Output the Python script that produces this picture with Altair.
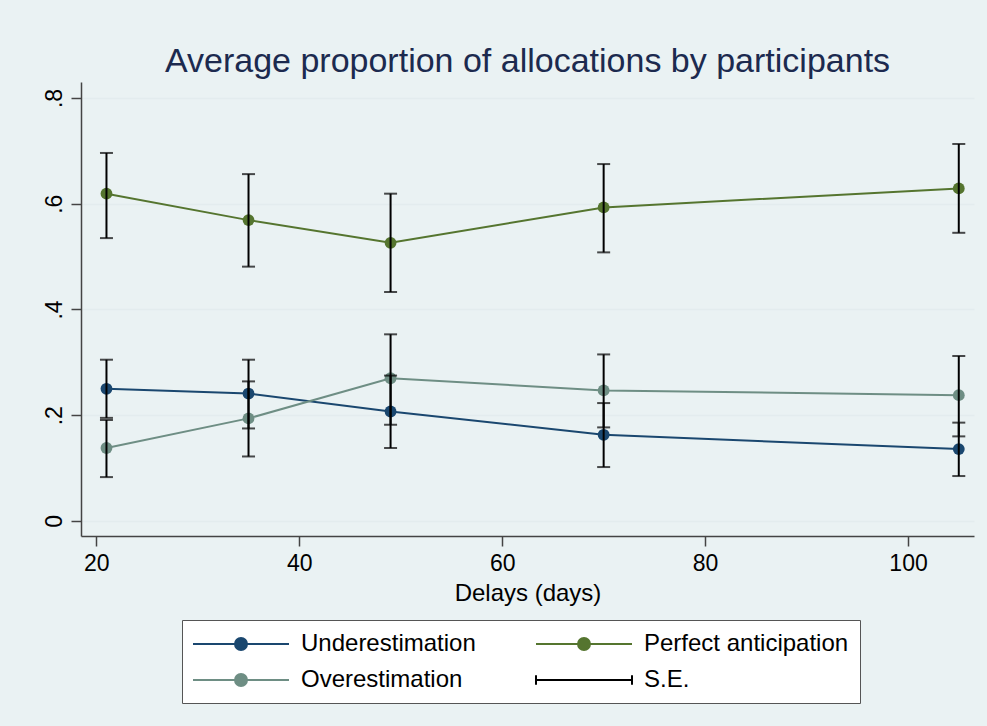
import altair as alt
import pandas as pd

# ---- data ----
delays = [21, 35, 49, 70, 105]
series_names = ["Underestimation", "Perfect anticipation", "Overestimation"]
series_colors = ["#1a476f", "#55752f", "#6e8e84"]

under_mean = [0.250, 0.241, 0.207, 0.163, 0.136]
under_lo = [0.195, 0.175, 0.138, 0.102, 0.085]
under_hi = [0.305, 0.305, 0.275, 0.223, 0.186]

perfect_mean = [0.619, 0.569, 0.526, 0.593, 0.629]
perfect_lo = [0.535, 0.481, 0.433, 0.508, 0.545]
perfect_hi = [0.696, 0.656, 0.619, 0.675, 0.713]

over_mean = [0.138, 0.194, 0.270, 0.247, 0.238]
over_lo = [0.083, 0.122, 0.182, 0.177, 0.160]
over_hi = [0.191, 0.264, 0.353, 0.315, 0.312]

x_ticks = [20, 40, 60, 80, 100]
y_ticks = [0, 0.2, 0.4, 0.6, 0.8]

# legend entries (column-major order: column 1 then column 2)
legend_names = ["Underestimation", "Overestimation", "Perfect anticipation", "S.E."]
legend_colors = ["#1a476f", "#6e8e84", "#55752f", "#000000"]

FONT = "Liberation Sans"

rows = []
for name, m, lo, hi in [
    ("Underestimation", under_mean, under_lo, under_hi),
    ("Perfect anticipation", perfect_mean, perfect_lo, perfect_hi),
    ("Overestimation", over_mean, over_lo, over_hi),
]:
    for d, mv, lv, hv in zip(delays, m, lo, hi):
        rows.append({"series": name, "delay": d, "mean": mv, "lo": lv, "hi": hv})
df = pd.DataFrame(rows)

x_scale = alt.Scale(domain=[18.49, 106.5], nice=False, zero=False)
y_scale = alt.Scale(domain=[-0.0284, 0.8302], nice=False, zero=False)

x_enc = alt.X(
    "delay:Q",
    scale=x_scale,
    axis=alt.Axis(
        values=x_ticks,
        title="Delays (days)",
        grid=False,
        labelFontSize=23,
        titleFontSize=24,
        labelPadding=6,
        titlePadding=6,
        tickSize=10,
    ),
)
y_axis = alt.Axis(
    values=y_ticks,
    title=None,
    grid=True,
    labelAngle=270,
    labelFontSize=23,
    labelPadding=5,
    tickSize=10,
    labelExpr="datum.value == 0 ? '0' : replace(format(datum.value, '.1f'), '0.', '.')",
)

color_enc = alt.Color(
    "series:N", scale=alt.Scale(domain=series_names, range=series_colors), legend=None
)

base = alt.Chart(df)

lines = base.mark_line(strokeWidth=2).encode(
    x=x_enc, y=alt.Y("mean:Q", scale=y_scale, axis=y_axis), color=color_enc
)
points = base.mark_circle(size=140, opacity=1).encode(
    x=x_enc, y=alt.Y("mean:Q"), color=color_enc
)
rules = base.mark_rule(color="black", strokeWidth=2).encode(
    x=x_enc, y=alt.Y("lo:Q"), y2="hi:Q"
)
caps_lo = base.mark_tick(color="black", thickness=2, size=13, orient="horizontal").encode(
    x=x_enc, y=alt.Y("lo:Q")
)
caps_hi = base.mark_tick(color="black", thickness=2, size=13, orient="horizontal").encode(
    x=x_enc, y=alt.Y("hi:Q")
)

series_path = "M-4,0L4,0M-0.5,0A0.5,0.5,0,1,0,0.5,0A0.5,0.5,0,1,0,-0.5,0"
se_path = "M-4,-0.4L-4,0.4M-4,0L4,0M4,-0.4L4,0.4"

leg = alt.Legend(
    title=None,
    orient="none",
    legendX=101,
    legendY=538,
    columns=2,
    symbolSize=576,
    symbolStrokeWidth=2,
    symbolOffset=35,
    labelOffset=47,
    labelFontSize=24,
    labelFont=FONT,
    labelColor="black",
    labelLimit=400,
    padding=11,
    rowPadding=11,
    columnPadding=56,
    fillColor="white",
    strokeColor="#555555",
)

legend_layer = alt.Chart(alt.Data(values=[])).mark_point(filled=True, opacity=1).encode(
    fill=alt.Fill("series:N", scale=alt.Scale(domain=legend_names, range=legend_colors), legend=leg),
    stroke=alt.Stroke("series:N", scale=alt.Scale(domain=legend_names, range=legend_colors), legend=leg),
    shape=alt.Shape(
        "series:N",
        scale=alt.Scale(domain=legend_names, range=[series_path, series_path, series_path, se_path]),
        legend=leg,
    ),
)

chart = (
    alt.layer(lines, points, rules, caps_lo, caps_hi, legend_layer)
    .properties(
        width=893,
        height=454,
        autosize=alt.AutoSizeParams(type="none"),
        padding={"left": 81, "top": 82, "right": 13, "bottom": 190},
        background="#eaf2f3",
        title=alt.TitleParams(
            "Average proportion of allocations by participants",
            fontSize=34,
            font=FONT,
            fontWeight="normal",
            color="#1c2a4f",
            anchor="middle",
            offset=3,
        ),
    )
    .configure_view(fill="white", strokeWidth=0)
    .configure_axis(
        labelFont=FONT,
        titleFont=FONT,
        labelColor="black",
        titleColor="black",
        titleFontWeight="normal",
        domainColor="#444444",
        domainWidth=1.5,
        tickColor="#444444",
        tickWidth=1.5,
        gridColor="#e3ecee",
        gridWidth=1.5,
    )
)

chart.save("out.html", embed_options={"renderer": "svg", "actions": False})
